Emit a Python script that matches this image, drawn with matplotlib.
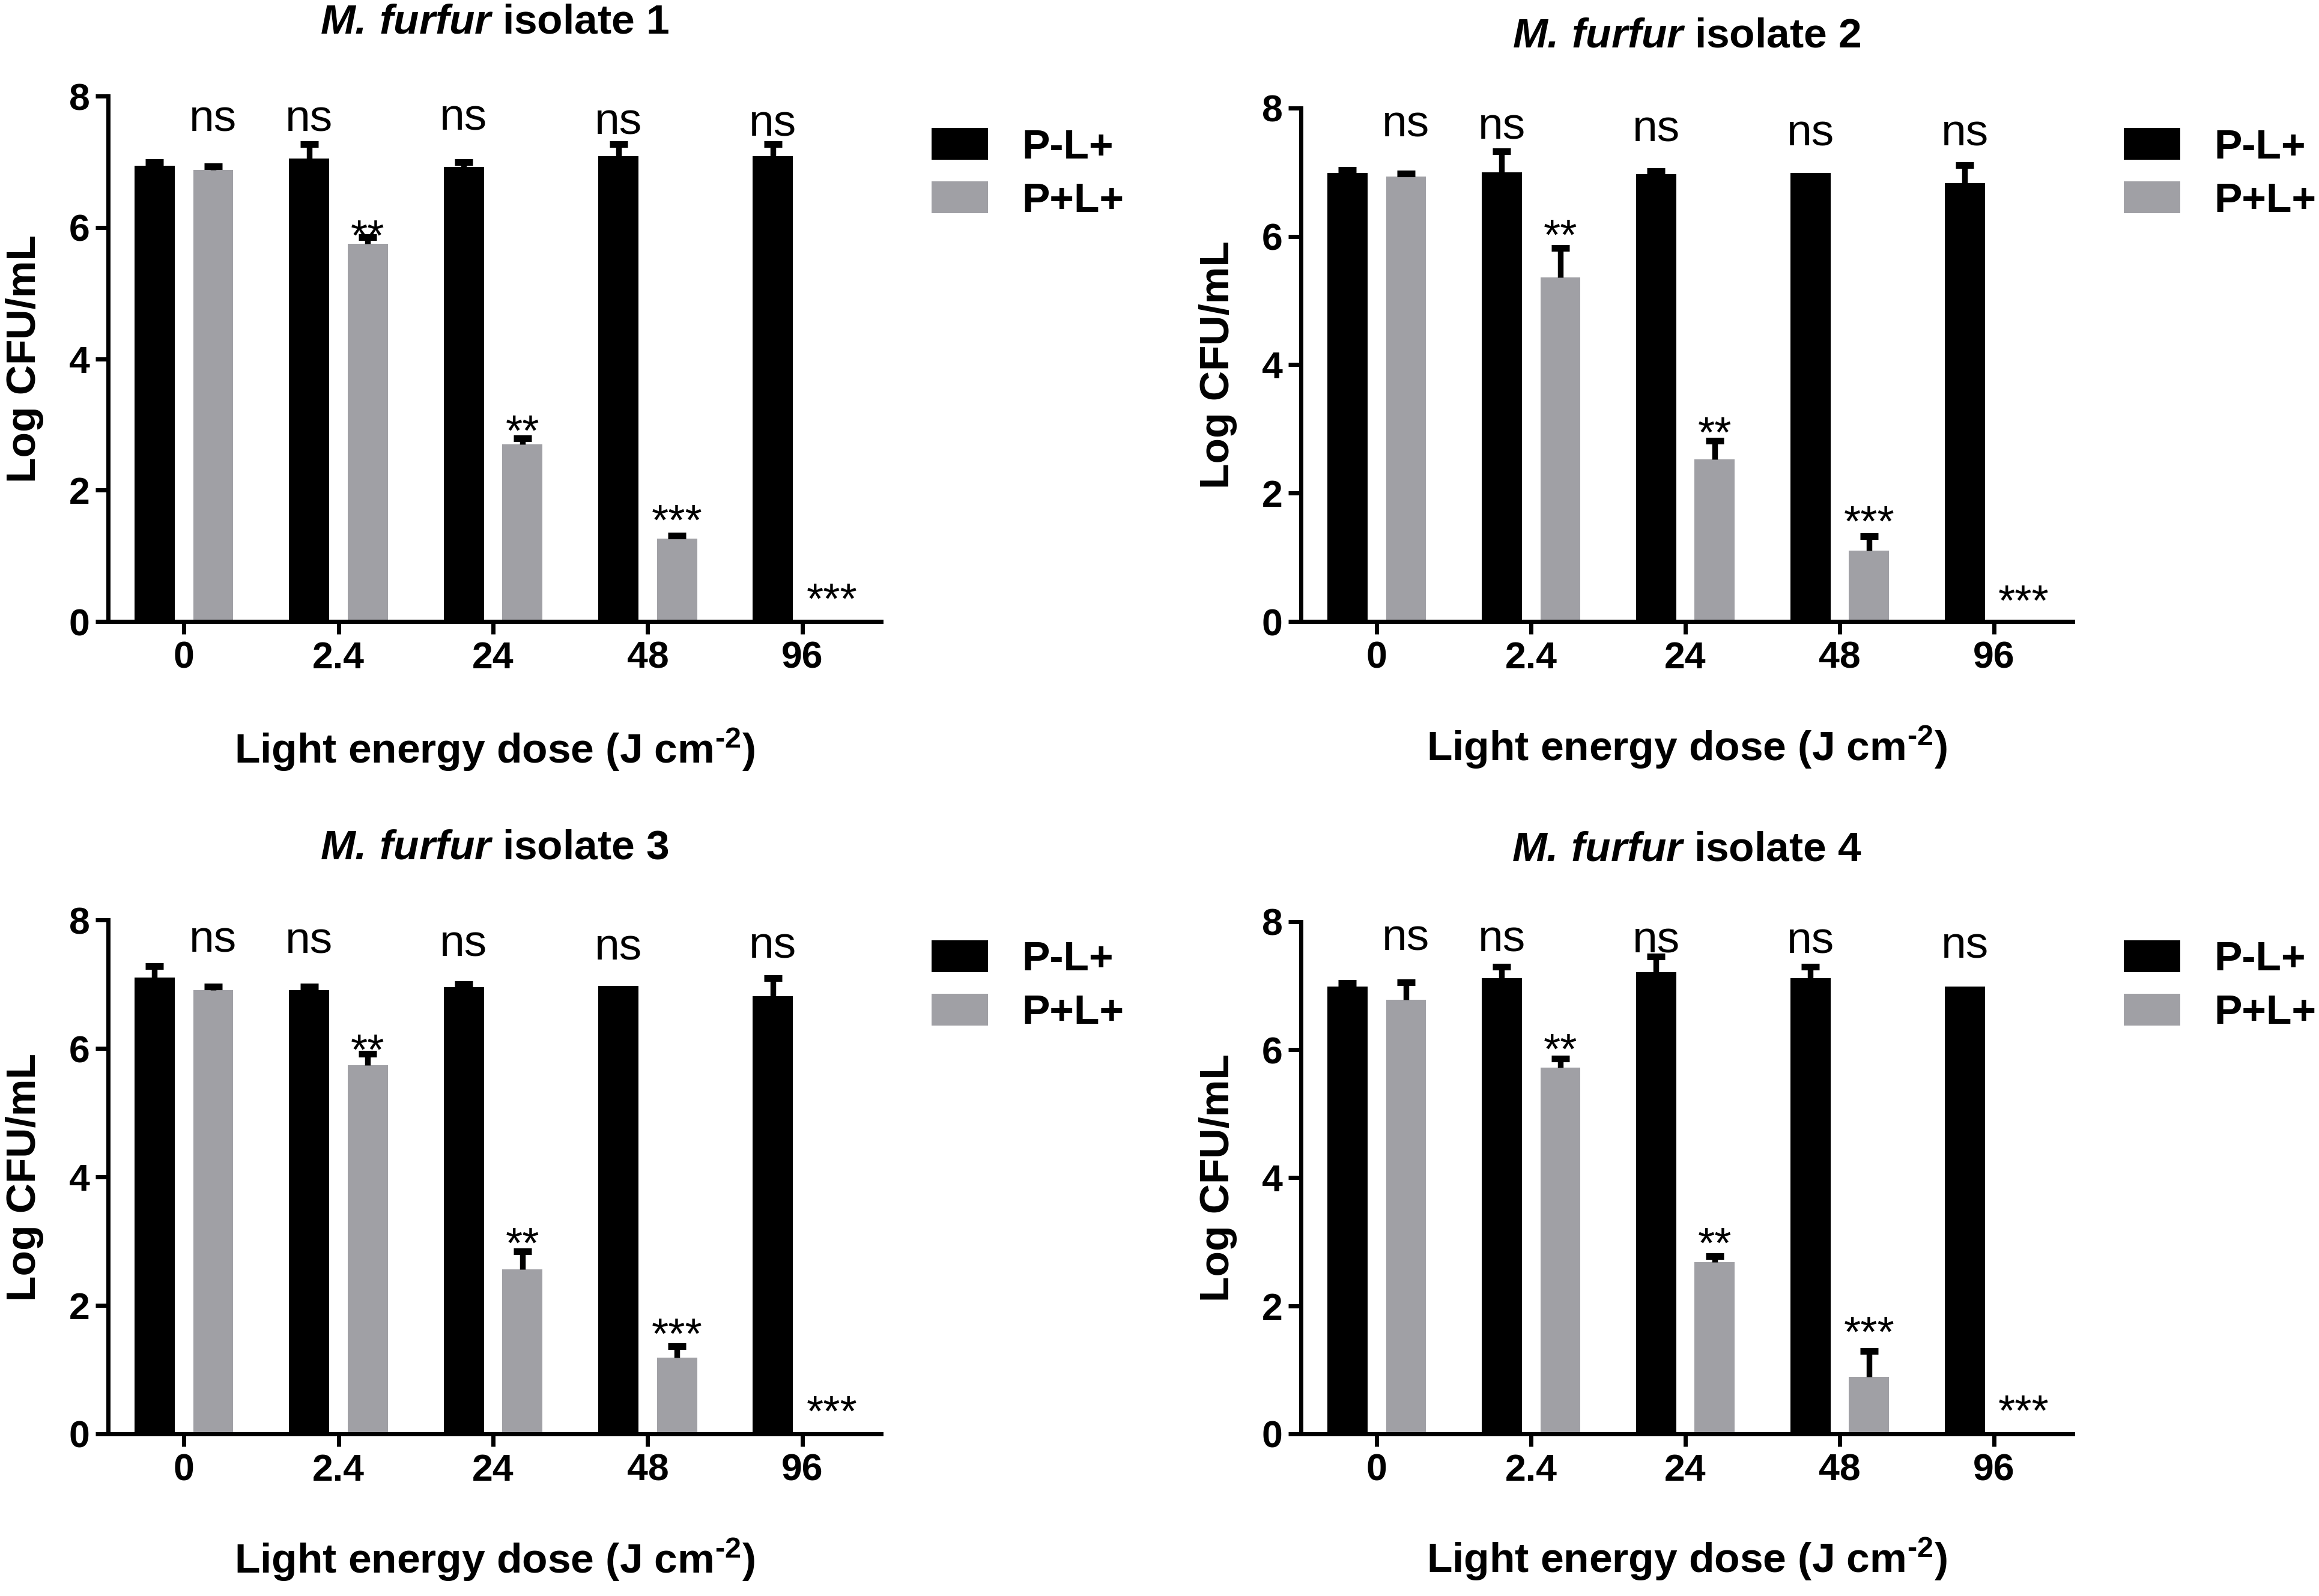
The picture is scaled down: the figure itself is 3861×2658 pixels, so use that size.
import matplotlib
matplotlib.use('Agg')
import matplotlib.pyplot as plt
import numpy as np

plt.rcParams['font.family'] = ['Liberation Sans', 'DejaVu Sans']
plt.rcParams['mathtext.fontset'] = 'custom'
plt.rcParams['mathtext.rm'] = 'Liberation Sans:bold'
plt.rcParams['mathtext.bf'] = 'Liberation Sans:bold'
plt.rcParams['mathtext.it'] = 'Liberation Sans:italic'
plt.rcParams['mathtext.bfit'] = 'Liberation Sans:italic:bold'

doses = ['0', '2.4', '24', '48', '96']
series = ['P-L+', 'P+L+']
isolates = ['1', '2', '3', '4']
star_labels = ['**', '**', '***', '***']   # for doses 2.4, 24, 48, 96
ns_over = [1, 0, 0, 0, 0]                  # which bar the "ns" sits on

# isolate 1
iso1_pl = [6.94, 7.05, 6.92, 7.09, 7.09]
iso1_pl_err = [0.05, 0.22, 0.07, 0.18, 0.18]
iso1_pp = [6.88, 5.75, 2.70, 1.26, 0.0]
iso1_pp_err = [0.05, 0.10, 0.09, 0.05, 0.0]
iso1_ns = [7.64, 7.64, 7.66, 7.60, 7.57]
iso1_star = [6.03, 3.06, 1.70, 0.50]

# isolate 2
iso2_pl = [6.99, 7.00, 6.97, 6.99, 6.83]
iso2_pl_err = [0.05, 0.33, 0.05, 0.0, 0.28]
iso2_pp = [6.93, 5.36, 2.53, 1.10, 0.0]
iso2_pp_err = [0.05, 0.46, 0.29, 0.23, 0.0]
iso2_ns = [7.74, 7.70, 7.66, 7.60, 7.60]
iso2_star = [6.18, 3.11, 1.72, 0.49]

# isolate 3
iso3_pl = [7.10, 6.91, 6.95, 6.97, 6.81]
iso3_pl_err = [0.18, 0.05, 0.05, 0.0, 0.28]
iso3_pp = [6.91, 5.74, 2.56, 1.19, 0.0]
iso3_pp_err = [0.05, 0.18, 0.28, 0.17, 0.0]
iso3_ns = [7.68, 7.66, 7.62, 7.56, 7.59]
iso3_star = [6.14, 3.13, 1.72, 0.51]

# isolate 4
iso4_pl = [6.99, 7.12, 7.21, 7.12, 6.99]
iso4_pl_err = [0.05, 0.18, 0.25, 0.18, 0.0]
iso4_pp = [6.78, 5.72, 2.68, 0.89, 0.0]
iso4_pp_err = [0.27, 0.14, 0.10, 0.40, 0.0]
iso4_ns = [7.74, 7.72, 7.70, 7.69, 7.62]
iso4_star = [6.17, 3.14, 1.75, 0.52]

panels = [
    (iso1_pl, iso1_pl_err, iso1_pp, iso1_pp_err, iso1_ns, iso1_star),
    (iso2_pl, iso2_pl_err, iso2_pp, iso2_pp_err, iso2_ns, iso2_star),
    (iso3_pl, iso3_pl_err, iso3_pp, iso3_pp_err, iso3_ns, iso3_star),
    (iso4_pl, iso4_pl_err, iso4_pp, iso4_pp_err, iso4_ns, iso4_star),
]

axes_pos = [
    [0.0466, 0.6106, 0.3333, 0.3292],
    [0.5609, 0.6106, 0.3327, 0.3217],
    [0.0466, 0.1016, 0.3333, 0.3220],
    [0.5609, 0.1016, 0.3327, 0.3209],
]
legend_pos = [(0.4016, 0.891), (0.9156, 0.891), (0.4016, 0.382), (0.9156, 0.382)]

colors = ['#000000', '#a0a0a5']
width = 0.26
offset = 0.19
lw = 2.5

fig = plt.figure(figsize=(19.31, 13.29), dpi=200)

for k, (pl, pl_err, pp, pp_err, ns_y, star_y) in enumerate(panels):
    ax = fig.add_axes(axes_pos[k])
    x = np.arange(len(doses))
    means = [np.array(pl), np.array(pp)]
    errs = [np.array(pl_err), np.array(pp_err)]
    xs = [x - offset, x + offset]

    for s in range(2):
        ax.bar(xs[s], means[s], width=width, color=colors[s], label=series[s], zorder=2)
        m = errs[s] > 0
        eb = ax.errorbar(xs[s][m], means[s][m], yerr=[np.zeros(m.sum()), errs[s][m]],
                         fmt='none', ecolor='black', elinewidth=3.4, capsize=5.4,
                         capthick=4, zorder=3)
        eb[1][0].set_visible(False)

    fs_ns = 27
    for i in range(len(doses)):
        ax.annotate('ns', xy=(xs[ns_over[i]][i], ns_y[i]), xytext=(0, -0.26 * fs_ns),
                    textcoords='offset points', ha='center', va='baseline',
                    fontsize=fs_ns)
    fs_st = 26
    for i, lab in enumerate(star_labels):
        ax.annotate(lab, xy=(xs[1][i + 1], star_y[i]), xytext=(0, -0.575 * fs_st),
                    textcoords='offset points', ha='center', va='baseline',
                    fontsize=fs_st)

    ax.set_xlim(-0.49, 4.51)
    ax.set_ylim(0, 8)
    ax.set_yticks([0, 2, 4, 6, 8])
    ax.set_xticks(x)
    ax.set_xticklabels(doses)
    for sp in ['top', 'right']:
        ax.spines[sp].set_visible(False)
    for sp in ['left', 'bottom']:
        ax.spines[sp].set_linewidth(lw)
    ax.tick_params(axis='both', width=lw, length=7.5, labelsize=22.5)
    ax.tick_params(axis='x', pad=4)
    ax.tick_params(axis='y', pad=3.5)
    for t in ax.get_xticklabels() + ax.get_yticklabels():
        t.set_fontweight('bold')

    ax.set_ylabel('Log CFU/mL', fontsize=25, fontweight='bold')
    ax.yaxis.set_label_coords(-0.083, 0.5)
    ax.set_xlabel(r'Light energy dose (J cm$^{\text{-}2}$)', fontsize=25, fontweight='bold')
    ax.xaxis.set_label_coords(0.5, -0.2)

    ax.text(0.5, 1.14, r'$\mathbfit{M.\,furfur}$ isolate ' + isolates[k],
            transform=ax.transAxes, ha='center', va='center', fontsize=25,
            fontweight='bold')

    ax.legend(loc='center left', bbox_to_anchor=legend_pos[k], bbox_transform=fig.transFigure,
              frameon=False, borderpad=0, borderaxespad=0, handlelength=1.36,
              handleheight=0.8, handletextpad=0.8, labelspacing=0.35,
              prop={'size': 25, 'weight': 'bold'})

fig.savefig('out.png', dpi=200, facecolor='white')
